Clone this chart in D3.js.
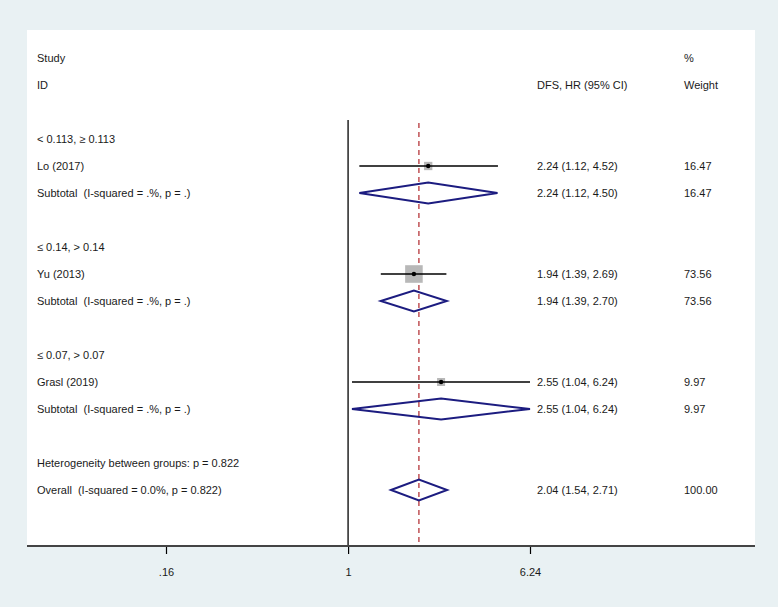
<!DOCTYPE html>
<html>
<head>
<meta charset="utf-8">
<script src="https://cdn.jsdelivr.net/npm/d3@7"></script>
<style>
  html, body { margin: 0; padding: 0; background: #e9f1f3; }
  svg { display: block; }
  text { font-family: "Liberation Sans", Arial, sans-serif; font-size: 11px; fill: #1a1a1a; white-space: pre; }
</style>
</head>
<body>
<div id="chart"></div>
<script>
// ---- Data ----
const groupLabels = ["< 0.113, \u2265 0.113", "\u2264 0.14, > 0.14", "\u2264 0.07, > 0.07"];
const studyNames = ["Lo (2017)", "Yu (2013)", "Grasl (2019)"];
const studyHR = [2.24, 1.94, 2.55];
const studyLo = [1.12, 1.39, 1.04];
const studyHi = [4.52, 2.69, 6.24];
const studyWeight = [16.47, 73.56, 9.97];
const subHR = [2.24, 1.94, 2.55];
const subLo = [1.12, 1.39, 1.04];
const subHi = [4.50, 2.70, 6.24];
const subWeight = [16.47, 73.56, 9.97];
const subLabel = "Subtotal  (I-squared = .%, p = .)";
const hetLabel = "Heterogeneity between groups: p = 0.822";
const overallLabel = "Overall  (I-squared = 0.0%, p = 0.822)";
const overallHR = 2.04, overallLo = 1.54, overallHi = 2.71, overallWeight = 100.00;
const tickValues = [0.16, 1, 6.24];
const tickLabels = [".16", "1", "6.24"];

// ---- Layout ----
const W = 778, H = 607;
const panel = { x0: 27, y0: 30, x1: 755, y1: 546 };
const colText = 37, colHR = 537, colW = 684;

const svg = d3.select("#chart").append("svg").attr("width", W).attr("height", H);
svg.append("rect").attr("width", W).attr("height", H).attr("fill", "#e9f1f3");
svg.append("rect").attr("x", panel.x0).attr("y", panel.y0)
  .attr("width", panel.x1 - panel.x0).attr("height", panel.y1 - panel.y0).attr("fill", "#ffffff");

const x = d3.scaleLog().domain([0.16, 6.24]).range([166, 530]);
const y = d3.scaleLinear().domain([0, 16]).range([58, 490]);
const fmt = d3.format(".2f");

// Build rows
const rows = [];
rows.push({ i: 0, type: "head", label: "Study", w: "%" });
rows.push({ i: 1, type: "head", label: "ID", hr: "DFS, HR (95% CI)", w: "Weight" });
groupLabels.forEach((g, k) => {
  const base = 3 + k * 4;
  rows.push({ i: base, type: "group", label: g });
  rows.push({ i: base + 1, type: "study", label: studyNames[k], est: studyHR[k], lo: studyLo[k], hi: studyHi[k], wt: studyWeight[k] });
  rows.push({ i: base + 2, type: "sub", label: subLabel, est: subHR[k], lo: subLo[k], hi: subHi[k], wt: subWeight[k] });
});
rows.push({ i: 15, type: "group", label: hetLabel });
rows.push({ i: 16, type: "sub", label: overallLabel, est: overallHR, lo: overallLo, hi: overallHi, wt: overallWeight });

// Reference lines
svg.append("line").attr("x1", x(1)).attr("x2", x(1)).attr("y1", 120).attr("y2", panel.y1)
  .attr("stroke", "#000").attr("stroke-width", 1.3);
svg.append("line").attr("x1", x(overallHR)).attr("x2", x(overallHR)).attr("y1", 123).attr("y2", panel.y1)
  .attr("stroke", "#b0262b").attr("stroke-width", 1.2).attr("stroke-dasharray", "5,4");

// Text columns
const tg = svg.append("g");
rows.forEach(r => {
  tg.append("text").attr("x", colText).attr("y", y(r.i)).attr("dy", "0.35em").text(r.label);
  if (r.type === "head") {
    if (r.hr) tg.append("text").attr("x", colHR).attr("y", y(r.i)).attr("dy", "0.35em").text(r.hr);
    tg.append("text").attr("x", colW).attr("y", y(r.i)).attr("dy", "0.35em").text(r.w);
  }
  if (r.type === "study" || r.type === "sub") {
    tg.append("text").attr("x", colHR).attr("y", y(r.i)).attr("dy", "0.35em")
      .text(`${fmt(r.est)} (${fmt(r.lo)}, ${fmt(r.hi)})`);
    tg.append("text").attr("x", colW).attr("y", y(r.i)).attr("dy", "0.35em").text(fmt(r.wt));
  }
});

// Study marks
const studies = rows.filter(r => r.type === "study");
const mg = svg.append("g");
studies.forEach(r => {
  const side = Math.max(8, 2.05 * Math.sqrt(r.wt));
  mg.append("rect").attr("x", x(r.est) - side / 2).attr("y", y(r.i) - side / 2)
    .attr("width", side).attr("height", side).attr("fill", "#b8b8b8");
  mg.append("line").attr("x1", x(r.lo)).attr("x2", x(r.hi)).attr("y1", y(r.i)).attr("y2", y(r.i))
    .attr("stroke", "#000").attr("stroke-width", 1.5);
  mg.append("circle").attr("cx", x(r.est)).attr("cy", y(r.i)).attr("r", 2.2).attr("fill", "#000");
});

// Diamonds
const subs = rows.filter(r => r.type === "sub");
subs.forEach(r => {
  const cy = y(r.i), h = 10.5;
  const pts = [[x(r.lo), cy], [x(r.est), cy - h], [x(r.hi), cy], [x(r.est), cy + h]];
  mg.append("polygon").attr("points", pts.map(p => p.join(",")).join(" "))
    .attr("fill", "none").attr("stroke", "#1c1c80").attr("stroke-width", 2).attr("stroke-linejoin", "miter");
});

// Axis
const axis = d3.axisBottom(x).tickValues(tickValues).tickFormat((d, i) => tickLabels[i]).tickSize(8).tickPadding(14);
const ag = svg.append("g").attr("transform", `translate(0,${panel.y1})`).call(axis);
ag.select(".domain").remove();
ag.selectAll(".tick line").attr("stroke", "#000").attr("stroke-width", 1.2);
ag.selectAll(".tick text").attr("font-size", 11).attr("font-family", "Liberation Sans, Arial, sans-serif").attr("fill", "#1a1a1a");
svg.append("line").attr("x1", panel.x0).attr("x2", panel.x1).attr("y1", panel.y1).attr("y2", panel.y1)
  .attr("stroke", "#444").attr("stroke-width", 2.2);
</script>
</body>
</html>
